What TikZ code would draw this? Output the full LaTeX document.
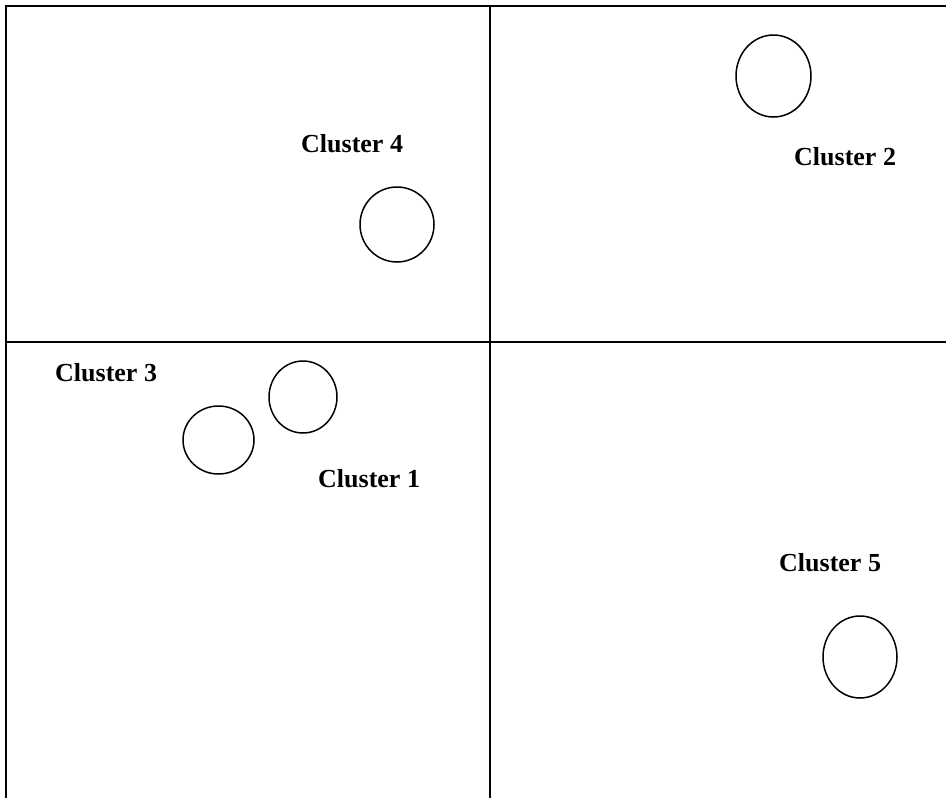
\documentclass[tikz,border=0pt]{standalone}
\usepackage{fontspec}
\setmainfont{Liberation Serif}
\usetikzlibrary{shapes.geometric}
\begin{document}
\begin{tikzpicture}[x=1pt,y=-1pt,
  grid/.style={line width=2pt, line cap=rect},
  blob/.style={draw, line width=1.5pt, ellipse, inner sep=0pt},
  tag/.style={anchor=base west, inner sep=0pt, font=\fontsize{26}{30}\selectfont\bfseries}]
  \useasboundingbox (0,0) rectangle (946,798);
  % frame and quadrant dividers
  \coordinate (tl) at (6,6);
  \coordinate (tr) at (946,6);
  \coordinate (bl) at (6,798);
  \coordinate (mt) at (490,6);
  \coordinate (mb) at (490,798);
  \coordinate (ml) at (6,342);
  \coordinate (mr) at (946,342);
  \draw[grid] (tr) -- (tl) -- (bl);
  \draw[grid] (mt) -- (mb);
  \draw[grid] (ml) -- (mr);
  % cluster circles
  \node[blob, minimum width=74pt, minimum height=75pt] (c4) at (397,224.5) {};
  \node[blob, minimum width=75pt, minimum height=82pt] (c2) at (773.5,76) {};
  \node[blob, minimum width=71pt, minimum height=68pt] (c3) at (218.5,440) {};
  \node[blob, minimum width=68pt, minimum height=72pt] (c1) at (303,397) {};
  \node[blob, minimum width=74pt, minimum height=82pt] (c5) at (860,657) {};
  % cluster labels
  \node[tag] (l4) at (301,152) {Cluster 4};
  \node[tag] (l2) at (794,165) {Cluster 2};
  \node[tag] (l3) at (55,381) {Cluster 3};
  \node[tag] (l1) at (318,487) {Cluster 1};
  \node[tag] (l5) at (779,571) {Cluster 5};
\end{tikzpicture}
\end{document}
